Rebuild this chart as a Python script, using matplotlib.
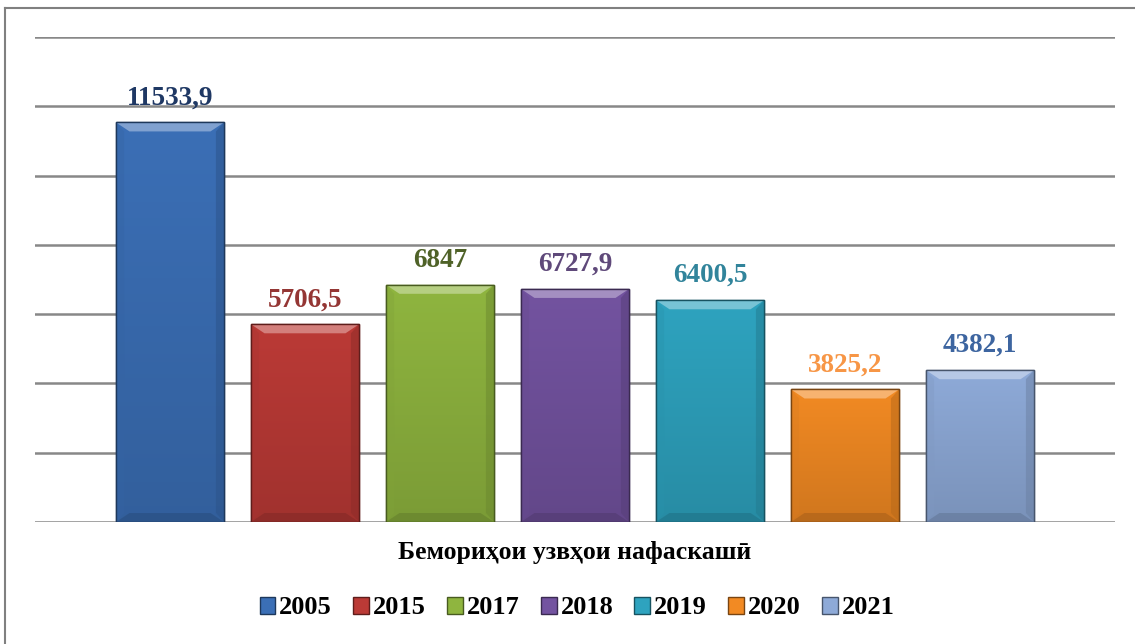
import matplotlib
matplotlib.use("Agg")
import matplotlib.pyplot as plt
import numpy as np
from matplotlib.colors import to_rgb
from matplotlib.patches import Polygon
from matplotlib.lines import Line2D

years = ["2005", "2015", "2017", "2018", "2019", "2020", "2021"]
values = [11533.9, 5706.5, 6847, 6727.9, 6400.5, 3825.2, 4382.1]
labels = ["11533,9", "5706,5", "6847", "6727,9", "6400,5", "3825,2", "4382,1"]
bar_colors = ["#3b6fb6", "#bb3a36", "#8fb53f", "#7353a0", "#2ea3bf", "#f28a23", "#8eaad8"]
label_colors = ["#1f3864", "#943634", "#4f6228", "#5f497a", "#31849b", "#f79646", "#3d65a0"]
title = "Бемориҳои узвҳои нафаскашӣ"

W, H = 1135, 644
fig = plt.figure(figsize=(W / 100, H / 100), dpi=100)
ax = fig.add_axes([35 / W, (H - 522) / H, (1115 - 35) / W, (522 - 37) / H])

serif = ["Liberation Serif", "DejaVu Serif"]

def shade(c, f):
    r, g, b = to_rgb(c)
    if f < 1:
        return (r * f, g * f, b * f)
    return (r + (1 - r) * (f - 1), g + (1 - g) * (f - 1), b + (1 - b) * (f - 1))

x = np.arange(len(values))
width = 0.8
bars = ax.bar(x, values, width=width, color=bar_colors, zorder=2)
for b, c in zip(bars, bar_colors):
    b.set_edgecolor(shade(c, 0.55))
    b.set_linewidth(1.0)

dy = 9 * 14000 / 485
dx = 0.1
for i, (b, c) in enumerate(zip(bars, bar_colors)):
    x0 = b.get_x()
    w = b.get_width()
    h = b.get_height()
    grad = np.linspace(0, 1, 100).reshape(-1, 1)
    c_top = np.array(shade(c, 1.0))
    c_bot = np.array(shade(c, 0.86))
    img = c_bot[None, None, :] * (1 - grad[..., None]) + c_top[None, None, :] * grad[..., None]
    im = ax.imshow(img, extent=[x0, x0 + w, 0, h], origin="lower", aspect="auto", zorder=2.1)
    im.set_clip_path(b)
    top = Polygon([[x0, h], [x0 + w, h], [x0 + w - dx, h - dy], [x0 + dx, h - dy]],
                  closed=True, facecolor=shade(c, 1.35), edgecolor="none", zorder=2.2)
    left = Polygon([[x0, h], [x0 + dx * 0.6, h - dy], [x0 + dx * 0.6, dy], [x0, 0]],
                   closed=True, facecolor=shade(c, 0.9), edgecolor="none", alpha=0.4, zorder=2.2)
    right = Polygon([[x0 + w, h], [x0 + w - dx * 0.6, h - dy], [x0 + w - dx * 0.6, dy], [x0 + w, 0]],
                    closed=True, facecolor=shade(c, 0.75), edgecolor="none", alpha=0.5, zorder=2.2)
    bottom = Polygon([[x0, 0], [x0 + w, 0], [x0 + w - dx, dy], [x0 + dx, dy]],
                     closed=True, facecolor=shade(c, 0.7), edgecolor="none", alpha=0.6, zorder=2.2)
    for p in (top, left, right, bottom):
        ax.add_patch(p)
    ax.add_patch(plt.Rectangle((x0, 0), w, h, facecolor="none", edgecolor=shade(c, 0.5), lw=1.0, zorder=2.3))
    ax.text(x[i], h + 350, labels[i], ha="center", va="bottom", fontsize=19.5, fontweight="bold",
            color=label_colors[i], family=serif, zorder=3)

ax.set_xlim(-1, 7)
ax.set_ylim(0, 14000)
ax.set_yticks(np.arange(0, 14001, 2000))
ax.yaxis.grid(True, color="#888888", linewidth=1.8, zorder=0)
ax.set_axisbelow(True)
ax.tick_params(left=False, bottom=False, labelleft=False, labelbottom=False)
for s in ax.spines.values():
    s.set_visible(False)

fig.text(575 / W, 1 - 553 / H, title, ha="center", va="center", fontsize=18.5, fontweight="bold",
         family=serif)

handles = [plt.Rectangle((0, 0), 1, 1, facecolor=c, edgecolor=shade(c, 0.5)) for c in bar_colors]
leg = fig.legend(handles, years, loc="center", bbox_to_anchor=(577 / W, 1 - 608 / H), ncol=7,
                 frameon=False, handlelength=0.6, handleheight=0.6, handletextpad=0.15,
                 columnspacing=0.8, prop={"family": serif, "weight": "bold", "size": 19})

fig.add_artist(Line2D([5 / W, 1.0], [1 - 8 / H, 1 - 8 / H], color="#808080", lw=1.5, transform=fig.transFigure))
fig.add_artist(Line2D([5 / W, 5 / W], [0, 1 - 8 / H], color="#808080", lw=1.5, transform=fig.transFigure))

fig.savefig("out.png", dpi=100)
